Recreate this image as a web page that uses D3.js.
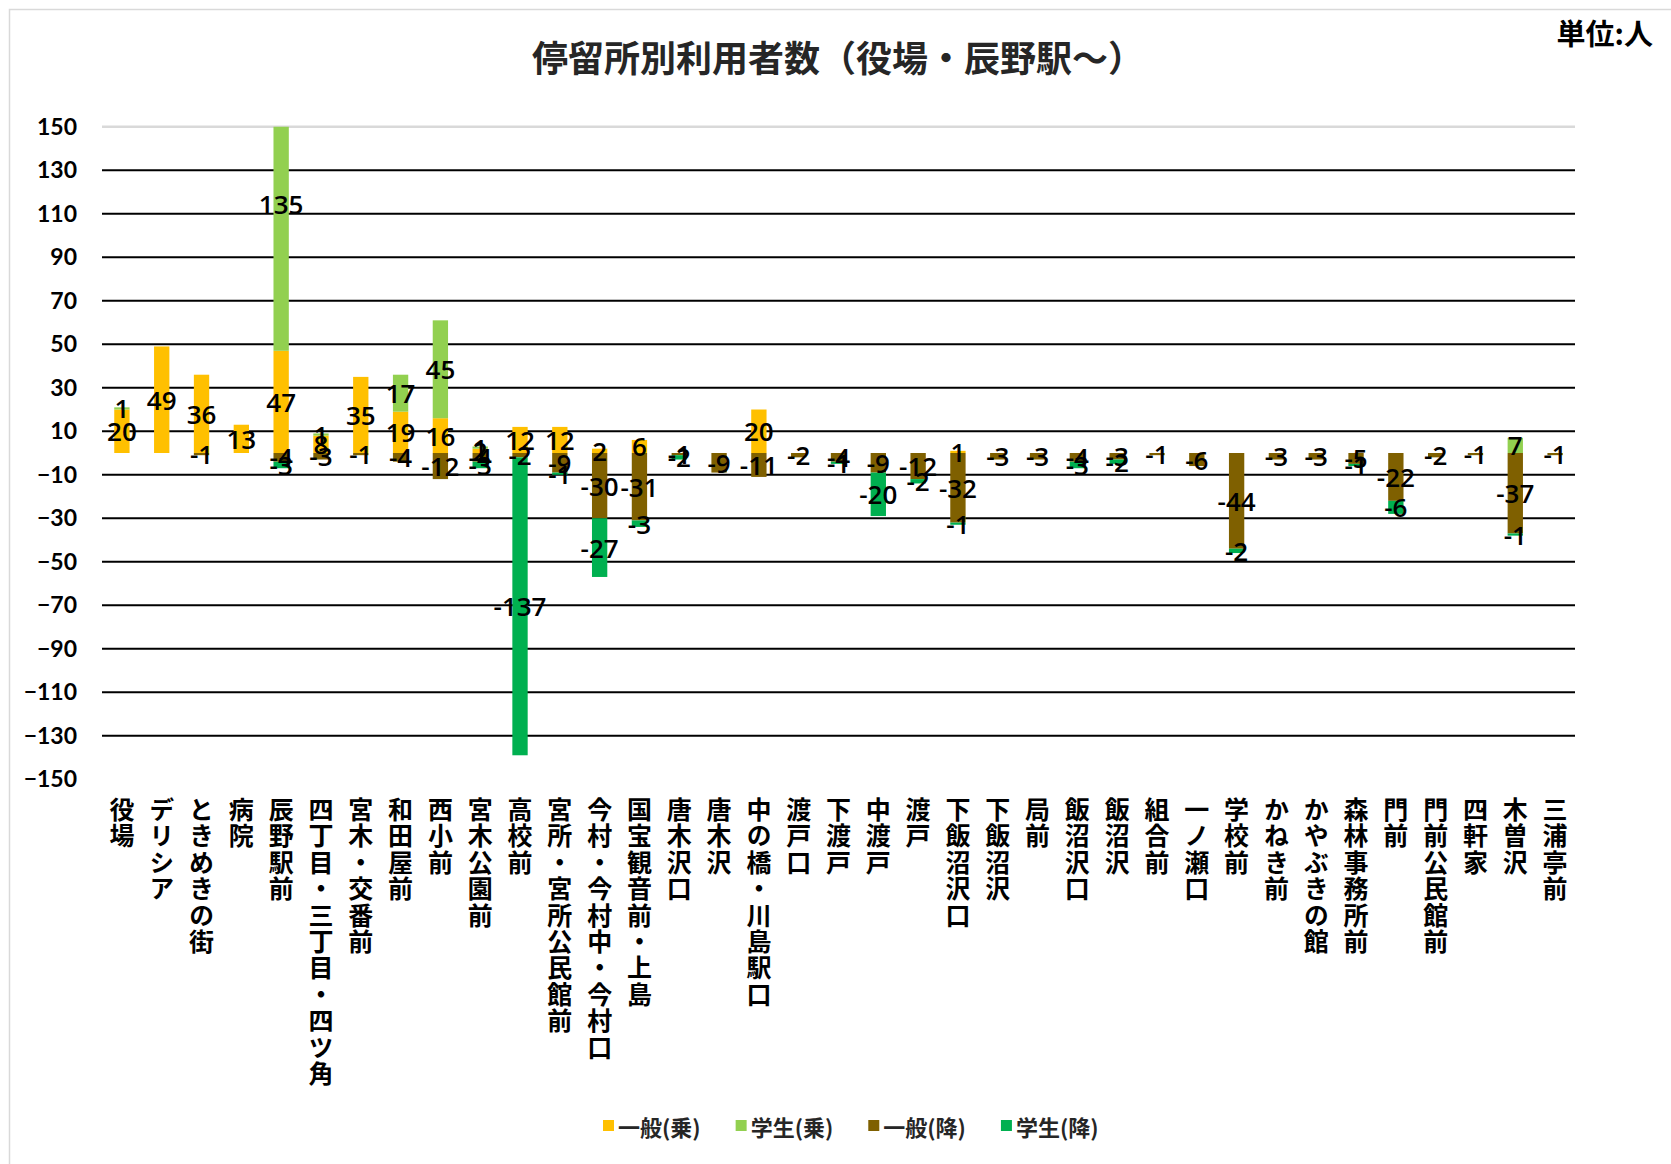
<!DOCTYPE html>
<html><head><meta charset="utf-8">
<script src="https://cdn.jsdelivr.net/npm/d3@7"></script>
<style>
body{margin:0;background:#fff}
svg{display:block}
.vt{writing-mode:vertical-rl;text-orientation:upright}
</style>
</head><body>
<svg id="c" width="1671" height="1164"></svg>
<script>
const categories = ["役場","デリシア","ときめきの街","病院","辰野駅前","四丁目・三丁目・四ツ角","宮木・交番前","和田屋前","西小前","宮木公園前","高校前","宮所・宮所公民館前","今村・今村中・今村口","国宝観音前・上島","唐木沢口","唐木沢","中の橋・川島駅口","渡戸口","下渡戸","中渡戸","渡戸","下飯沼沢口","下飯沼沢","局前","飯沼沢口","飯沼沢","組合前","一ノ瀬口","学校前","かねき前","かやぶきの館","森林事務所前","門前","門前公民館前","四軒家","木曽沢","三浦亭前"];
const ippanJo   = [20,49,36,13,47,8,35,19,16,2,12,12,2,6,0,0,20,0,0,0,0,1,0,0,0,0,0,0,0,0,0,0,0,0,0,0,0];
const gakuseiJo = [1,0,0,0,135,1,0,17,45,1,0,0,0,0,0,0,0,0,0,0,0,0,0,0,0,0,0,0,0,0,0,0,0,0,0,7,0];
const ippanKo   = [0,0,-1,0,-4,-3,-1,-4,-12,-4,-2,-9,-30,-31,-1,-9,-11,-2,-4,-9,-12,-32,-3,-3,-4,-3,-1,-6,-44,-3,-3,-5,-22,-2,-1,-37,-1];
const gakuseiKo = [0,0,0,0,-3,0,0,0,0,-3,-137,-1,-27,-3,-2,0,0,0,-1,-20,-2,-1,0,0,-3,-2,0,0,-2,0,0,-1,-6,0,0,-1,0];
const seriesNames = ["一般(乗)","学生(乗)","一般(降)","学生(降)"];
const seriesColors = ["#FFC000","#92D050","#7F6000","#00B050"];
const yTicks = [150,130,110,90,70,50,30,10,-10,-30,-50,-70,-90,-110,-130,-150];
const titleText = "停留所別利用者数（役場・辰野駅～）";
const unitText = "単位:人";

const svg = d3.select("#c");
const W = 1671, H = 1164;
const jp = "'Noto Sans CJK JP','Noto Sans',sans-serif";
const num = "Lato,'Liberation Sans',sans-serif";
const lab = "'Open Sans',Lato,sans-serif";

// chart border
svg.append("rect").attr("x",9.5).attr("y",9.5).attr("width",W).attr("height",H)
  .attr("fill","none").attr("stroke","#d9d9d9").attr("stroke-width",1.5);

const x = d3.scaleBand().domain(categories).range([102,1575]).paddingInner(0.615).paddingOuter(0.3075);
const y = d3.scaleLinear().domain([-150,150]).range([779.2,126.8]);

svg.append("defs").append("clipPath").attr("id","plotclip").append("rect")
  .attr("x",102).attr("y",y(150)).attr("width",1473).attr("height",y(-150)-y(150));

// gridlines
svg.append("g").selectAll("line").data(yTicks.filter(t=>t>-150)).join("line")
  .attr("x1",102).attr("x2",1575)
  .attr("y1",d=>y(d)).attr("y2",d=>y(d))
  .attr("stroke",d=>d===150?"#d9d9d9":"#000").attr("stroke-width",d=>d===150?2.5:2);

// y tick labels
const yAxis = d3.axisLeft(y).tickValues(yTicks).tickSize(0).tickPadding(0);
const ga = svg.append("g").attr("transform","translate(77,0)").call(yAxis);
ga.select(".domain").remove();
ga.selectAll("text").attr("font-family",num).attr("font-size",23).attr("font-weight","bold").attr("fill","#000");

// stacked data
const rows = categories.map((c,i)=>({cat:c, s0:ippanJo[i], s1:gakuseiJo[i], s2:ippanKo[i], s3:gakuseiKo[i]}));
const keys = ["s0","s1","s2","s3"];
const stacked = d3.stack().keys(keys).offset(d3.stackOffsetDiverging)(rows);

const gb = svg.append("g").attr("clip-path","url(#plotclip)");
stacked.forEach((layer,k)=>{
  gb.append("g").attr("fill",seriesColors[k]).selectAll("rect")
    .data(layer.filter(d=>d.data[keys[k]]!==0)).join("rect")
    .attr("x",d=>x(d.data.cat)).attr("width",x.bandwidth())
    .attr("y",d=>y(Math.max(d[0],d[1])))
    .attr("height",d=>Math.abs(y(d[0])-y(d[1])));
});

// data labels
const gl = svg.append("g").attr("font-family",lab).attr("font-size",26).attr("font-weight",600).attr("fill","#000")
  .attr("text-anchor","middle").attr("dominant-baseline","central");
stacked.forEach((layer,k)=>{
  gl.append("g").selectAll("text")
    .data(layer.filter(d=>d.data[keys[k]]!==0)).join("text")
    .attr("x",d=>x(d.data.cat)+x.bandwidth()/2)
    .attr("y",d=>y((d[0]+d[1])/2))
    .text(d=>d.data[keys[k]]);
});

// category labels (vertical)
svg.append("g").selectAll("text").data(categories).join("text")
  .attr("class","vt")
  .attr("x",d=>x(d)+x.bandwidth()/2)
  .attr("y",797)
  .attr("font-family",jp).attr("font-size",25).attr("font-weight","bold").attr("fill","#000")
  .attr("letter-spacing",1.4)
  .text(d=>d);

// title
svg.append("text").attr("x",838).attr("y",72).attr("text-anchor","middle")
  .attr("font-family",jp).attr("font-size",36).attr("font-weight","bold").attr("fill","#262626")
  .text(titleText);
svg.append("text").attr("x",1653).attr("y",45).attr("text-anchor","end")
  .attr("font-family",jp).attr("font-size",29).attr("font-weight","bold").attr("fill","#000")
  .text(unitText);

// legend
const lg = svg.append("g");
let lx = 603;
seriesNames.forEach((n,k)=>{
  lg.append("rect").attr("x",lx).attr("y",1120).attr("width",11).attr("height",11).attr("fill",seriesColors[k]);
  const t = lg.append("text").attr("x",lx+15).attr("y",1126).attr("dominant-baseline","central")
    .attr("font-family",jp).attr("font-size",22).attr("font-weight","bold").attr("fill","#262626").text(n);
  lx += 15 + t.node().getComputedTextLength() + 35;
});
</script>
</body></html>
